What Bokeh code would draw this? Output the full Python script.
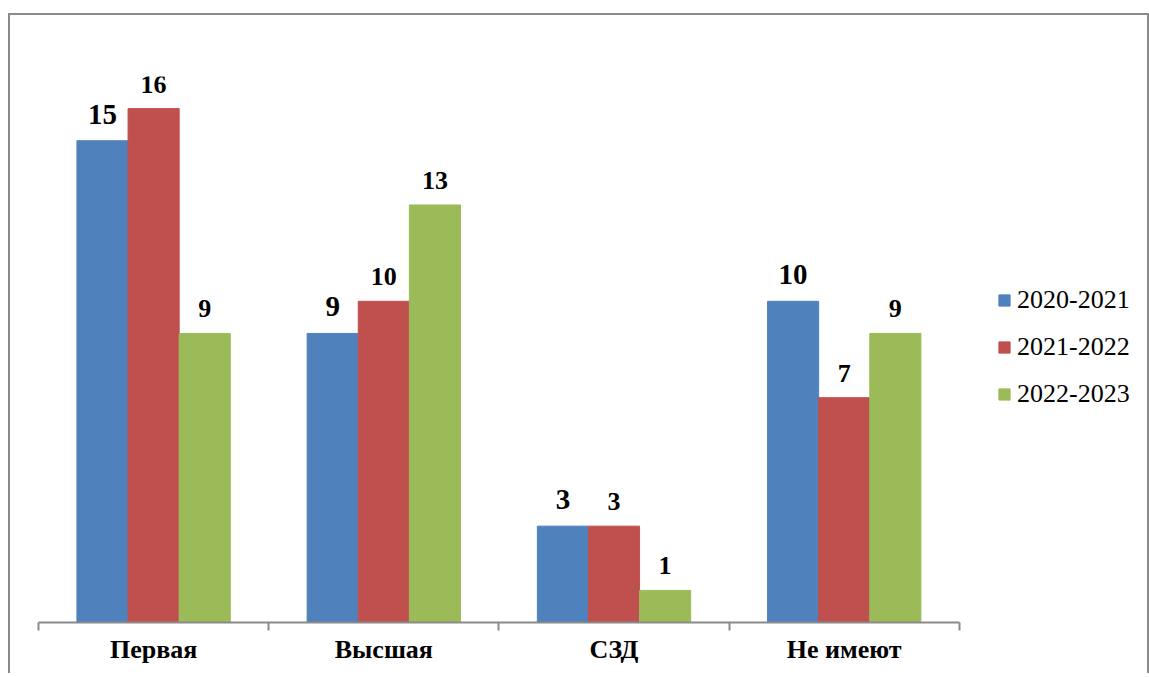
from bokeh.plotting import figure
from bokeh.models import ColumnDataSource, Range1d, FixedTicker, LabelSet, Legend, LegendItem
from bokeh.transform import dodge
from bokeh.embed import file_html
from bokeh.resources import INLINE

categories = ["Первая", "Высшая", "СЗД", "Не имеют"]
series_names = ["2020-2021", "2021-2022", "2022-2023"]
v2020 = [15, 9, 3, 10]
v2021 = [16, 10, 3, 7]
v2022 = [9, 13, 1, 9]
colors = ["#4F81BD", "#C0504D", "#9BBB59"]

n = len(categories)
xi = [i + 0.5 for i in range(n)]
src = ColumnDataSource(dict(x=xi, cat=categories, a=v2020, b=v2021, c=v2022,
                            la=[str(v) for v in v2020], lb=[str(v) for v in v2021],
                            lc=[str(v) for v in v2022]))

W, H = 1141, 660
ML = 28
CAT_PX = 230.0
frame_w = W - 1 - ML
p = figure(width=W, height=H, output_backend="svg", toolbar_location=None,
           x_range=Range1d(0, frame_w / CAT_PX), y_range=Range1d(0, 17),
           min_border_left=ML, min_border_right=0, min_border_top=61, min_border_bottom=53)
p.styles = {"margin-top": "13px", "margin-left": "8px", "box-sizing": "border-box",
            "border-top": "2px solid #8a8a8a",
            "border-left": "2px solid #8a8a8a", "border-right": "2px solid #8a8a8a"}
p.outline_line_color = None
p.grid.visible = False
p.yaxis.visible = False

BW = 0.222
offsets = [-BW, 0, BW]
cols = ["a", "b", "c"]
lcols = ["la", "lb", "lc"]
sizes = ["29px", "26px", "26px"]
offs_y = [17, 16, 16]
items = []
for k in range(3):
    r = p.vbar(x=dodge("x", offsets[k], range=p.x_range), top=cols[k], width=BW, bottom=0,
               source=src, fill_color=colors[k], line_color=colors[k])
    items.append(LegendItem(label=series_names[k], renderers=[r]))
    p.add_layout(LabelSet(x=dodge("x", offsets[k], range=p.x_range), y=cols[k], text=lcols[k],
                          source=src, text_align="center", text_baseline="alphabetic",
                          y_offset=offs_y[k], text_font="Liberation Serif",
                          text_font_style="bold", text_font_size=sizes[k], text_color="black"))

ax = p.xaxis[0]
ax.bounds = (0, n)
ax.ticker = FixedTicker(ticks=xi, minor_ticks=list(range(n + 1)))
ax.major_label_overrides = {x: c for x, c in zip(xi, categories)}
ax.major_tick_line_color = None
ax.major_tick_out = 0
ax.major_tick_in = 0
ax.minor_tick_out = 8
ax.minor_tick_in = 0
ax.minor_tick_line_color = "#8a8a8a"
ax.minor_tick_line_width = 2
ax.axis_line_color = "#8a8a8a"
ax.axis_line_width = 2
ax.major_label_standoff = 4
ax.major_label_text_font = "Liberation Serif"
ax.major_label_text_font_style = "bold"
ax.major_label_text_font_size = "26px"
ax.major_label_text_color = "black"

legend = Legend(items=items, location=(959, 213), orientation="vertical")
legend.border_line_color = None
legend.background_fill_alpha = 0
legend.margin = 0
legend.padding = 10
legend.glyph_width = 14
legend.glyph_height = 14
legend.label_standoff = 6
legend.spacing = 17
legend.label_text_font = "Liberation Serif"
legend.label_text_font_size = "26px"
legend.label_text_color = "black"
p.add_layout(legend)

open("out.html", "w").write(file_html(p, INLINE))
